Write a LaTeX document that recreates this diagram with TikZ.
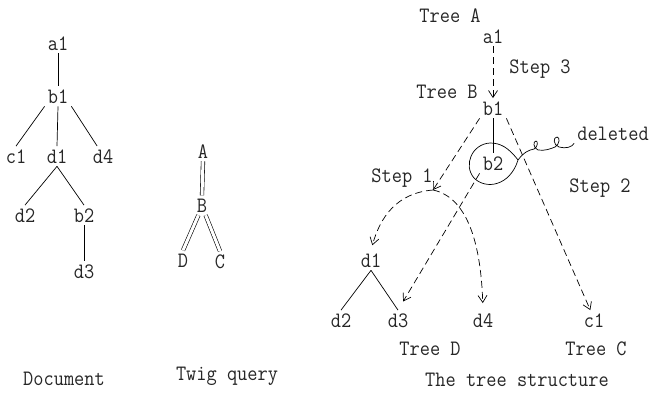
\documentclass[tikz,border=0pt]{standalone}
\usepackage{graphicx}
\usetikzlibrary{arrows.meta}
\newcommand\tx[1]{\scalebox{0.9}[1]{#1}}
\begin{document}
\begin{tikzpicture}[x=1bp,y=-1bp,
  lbl/.style={font=\fontsize{22bp}{26bp}\selectfont\ttfamily, text=black!85, inner sep=3bp, anchor=base},
  edge/.style={line width=0.7bp},
  dsh/.style={edge, dash pattern=on 7bp off 4bp},
  arr/.style={-{Straight Barb[length=7bp,width=9bp]}},
  dbl/.style={double, double distance=3bp, line width=0.6bp}]
\useasboundingbox (0,0) rectangle (652,401);

% ---------------- Document ----------------
\node[lbl] (a1) at (58,50) {\tx{a1}};
\node[lbl] (b1) at (58,103) {\tx{b1}};
\node[lbl] (c1) at (16,163) {\tx{c1}};
\node[lbl] (d1) at (57,163) {\tx{d1}};
\node[lbl] (d4) at (103,163) {\tx{d4}};
\node[lbl] (d2) at (25,222) {\tx{d2}};
\node[lbl] (b2) at (84,222) {\tx{b2}};
\node[lbl] (d3) at (84,278) {\tx{d3}};
\draw[edge] (a1.south) -- (b1.north);
\draw[edge] (b1.south west) -- (c1.north);
\draw[edge] (b1.south) -- (d1.north);
\draw[edge] (b1.south east) -- (d4.120);
\draw[edge] (d1.south) -- (d2.north);
\draw[edge] (d1.south) -- (b2.north);
\draw[edge] (b2.south) -- (d3.north);
\node[lbl] (doc) at (64,385) {\tx{Document}};

% ---------------- Twig query ----------------
\node[lbl] (A) at (203,158) {\tx{A}};
\node[lbl] (B) at (202,212) {\tx{B}};
\node[lbl] (D) at (183,267) {\tx{D}};
\node[lbl] (C) at (220,268) {\tx{C}};
\draw[dbl] (A.south) -- (B.north);
\draw[dbl] (B.250) -- (D.north);
\draw[dbl] (B.290) -- (C.north);
\node[lbl] (twig) at (227,380) {\tx{Twig query}};

% ---------------- Tree structure ----------------
\node[lbl] (treeA) at (450,22) {\tx{Tree A}};
\node[lbl] (sa1) at (493,43) {\tx{a1}};
\node[lbl] (step3) at (540,73) {\tx{Step 3}};
\node[lbl] (treeB) at (447,98) {\tx{Tree B}};
\node[lbl] (sb1) at (493,115) {\tx{b1}};
\node[lbl] (sb2) at (493,170) {\tx{b2}};
\node[lbl] (deleted) at (613,140) {\tx{deleted}};
\node[lbl] (step1) at (402,182) {\tx{Step 1}};
\node[lbl] (step2) at (600,192) {\tx{Step 2}};
\node[lbl] (sd1) at (371,267) {\tx{d1}};
\node[lbl] (sd2) at (341,327) {\tx{d2}};
\node[lbl] (sd3) at (398,327) {\tx{d3}};
\node[lbl] (sd4) at (483,327) {\tx{d4}};
\node[lbl] (sc1) at (594,327) {\tx{c1}};
\node[lbl] (treeD) at (430,355) {\tx{Tree D}};
\node[lbl] (treeC) at (596,355) {\tx{Tree C}};
\node[lbl] (struct) at (517,386) {\tx{The tree structure}};
\coordinate (P) at (433,190);

\draw[dsh,arr] (sa1.south) -- (sb1.north);
\draw[dsh,arr] (sb1.south west) -- (P);
\draw[dsh,arr,shorten >=5bp] (P) .. controls (396,193) and (380,218) .. (sd1.north);
\draw[dsh,arr,shorten >=7bp] (P) .. controls (470,198) and (481,250) .. (sd4.north);
\draw[dsh,arr,shorten >=10bp] (sb2.south west) -- (sd3.north);
\draw[dsh,arr] (sb1.south east) -- (sc1.110);
\draw[edge] (sb1.south) -- (sb2.north);
\draw[edge] (sd1.south) -- (sd2.north);
\draw[edge] (sd1.south) -- (sd3.north);

% loop around b2 with curly tail to "deleted"
\draw[edge] (518,160) .. controls (508,147) and (500,143) .. (490,143)
  .. controls (472,144) and (463,165) .. (474,178)
  .. controls (486,190) and (510,186) .. (518,160)
  .. controls (524,152) and (529,150) .. (534,149)
  .. controls (538,147) and (538,141) .. (536,141)
  .. controls (533,141) and (533,148) .. (538,150)
  .. controls (545,151) and (550,149) .. (555,147)
  .. controls (560,144) and (560,137) .. (557,137)
  .. controls (553,137) and (553,145) .. (559,147)
  .. controls (566,149) and (572,147) .. (deleted.south west);
\end{tikzpicture}
\end{document}
